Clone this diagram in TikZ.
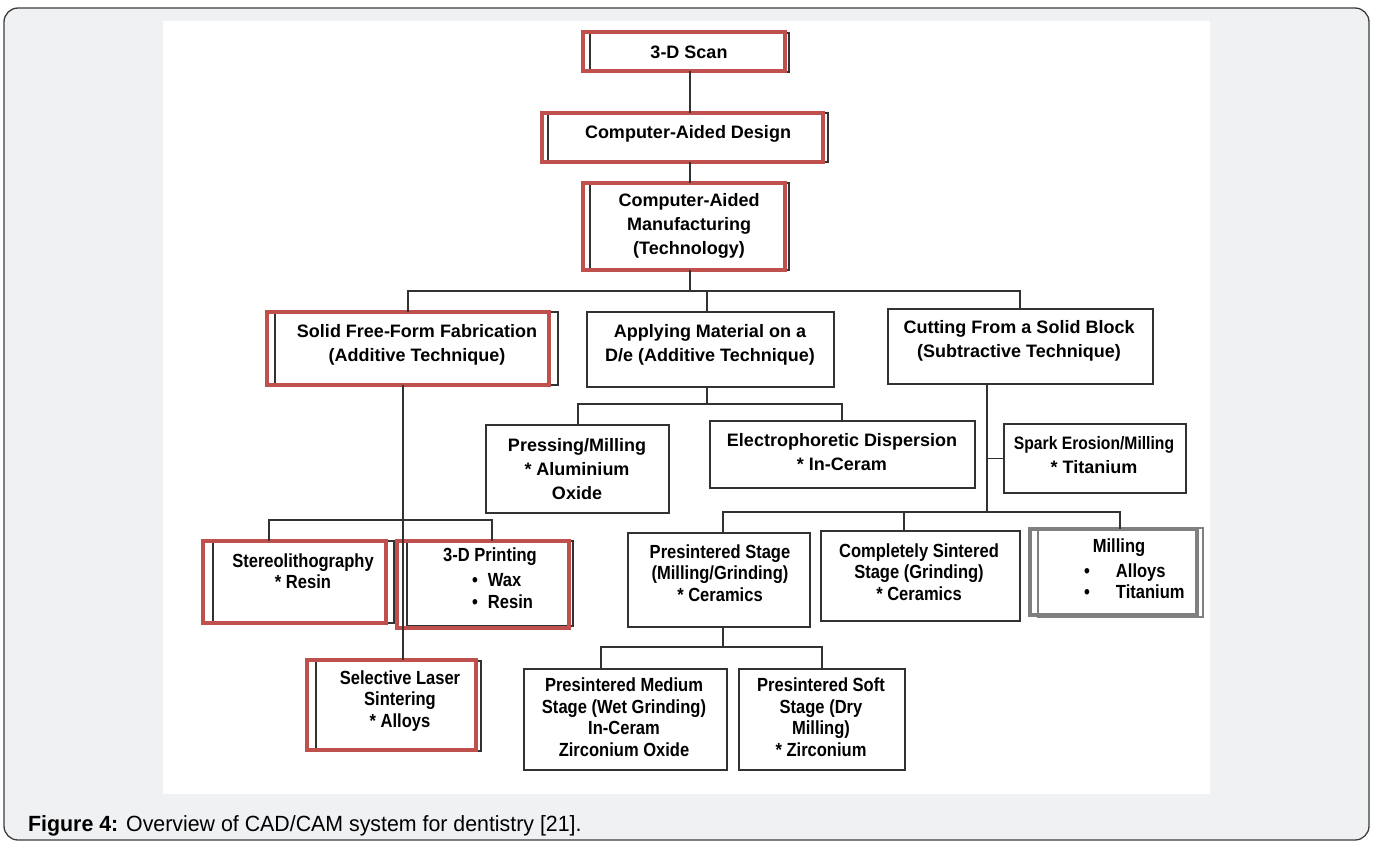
\documentclass[tikz,border=0pt]{standalone}
\usepackage{fontspec}
\newfontfamily\sansf{Liberation Sans}
\newfontfamily\narrowf[FakeStretch=0.87]{Liberation Sans}
\newfontfamily\capf[FakeStretch=0.97]{Liberation Sans}
\definecolor{linec}{RGB}{50,50,50}
\definecolor{redc}{RGB}{192,80,77}
\definecolor{grayc}{RGB}{128,128,128}
\definecolor{bgc}{RGB}{240,241,243}
\definecolor{framec}{RGB}{60,60,60}
\newcommand\boxat[6]{\node[#2,anchor=north west,minimum width=#5pt-#3pt,minimum height=#6pt-#4pt] (#1) at (#3,#4) {};}
\begin{document}
\begin{tikzpicture}[x=1pt,y=-1pt,
  frame/.style={draw=framec, line width=1.3pt, rounded corners=14pt, fill=bgc},
  plainbox/.style={draw=linec, line width=1.4pt, inner sep=0pt, outer sep=0pt},
  redbox/.style={draw=redc, line width=4.5pt, inner sep=0pt, outer sep=0pt},
  graybox/.style={draw=grayc, line width=4pt, inner sep=0pt, outer sep=0pt},
  graythin/.style={draw=grayc, line width=1.8pt, inner sep=0pt, outer sep=0pt},
  conn/.style={draw=linec, line width=1.4pt},
  mtxt/.style={font=\sansf\bfseries\fontsize{18}{24}\selectfont, align=center, inner sep=0pt, text=black},
  ntxt/.style={font=\narrowf\bfseries\fontsize{19}{21.5}\selectfont, align=center, inner sep=0pt, text=black}
]
\useasboundingbox (0,0) rectangle (1375,841);
\draw[frame] (4,8) rectangle (1369,840);
\fill[white] (163,21) rectangle (1210,794);

% double boxes (black frame + red frame)
\boxat{scanB}{plainbox}{590}{33}{789}{72}
\boxat{scan}{redbox}{583}{32}{785}{71}
\boxat{cadB}{plainbox}{548}{113}{828}{162}
\boxat{cad}{redbox}{542}{113}{823}{162}
\boxat{camB}{plainbox}{590}{183}{789}{270}
\boxat{cam}{redbox}{583}{183}{785}{270}
\boxat{sffB}{plainbox}{275}{312}{558}{385}
\boxat{sff}{redbox}{267}{312}{549}{385}
\boxat{stereoB}{plainbox}{213}{541}{394}{623}
\boxat{stereo}{redbox}{203}{541}{386}{623}
\boxat{printB}{plainbox}{407}{541}{573}{626}
\boxat{print}{redbox}{397}{541}{569}{628}
\boxat{slsB}{plainbox}{316}{661}{481}{751}
\boxat{sls}{redbox}{307}{660}{476}{750}
\boxat{millB}{graythin}{1038}{528}{1203}{617}
\boxat{mill}{graybox}{1030}{529}{1197}{615}

% plain boxes
\boxat{apply}{plainbox}{587}{312}{834}{387}
\boxat{cut}{plainbox}{888}{309}{1153}{384}
\boxat{press}{plainbox}{486}{425}{669}{513}
\boxat{electro}{plainbox}{710}{421}{975}{488}
\boxat{spark}{plainbox}{1004}{424}{1186}{493}
\boxat{preS}{plainbox}{628}{533}{810}{627}
\boxat{compS}{plainbox}{821}{531}{1020}{621}
\boxat{medium}{plainbox}{524}{669}{727}{770}
\boxat{soft}{plainbox}{739}{669}{905}{770}

% connectors
\draw[conn] (690,0 |- scan.south) -- (690,0 |- cad.north);
\draw[conn] (690,0 |- cad.south) -- (690,0 |- cam.north);
\draw[conn] (690,0 |- cam.south) -- (690,291);
\draw[conn] (408,0 |- sff.north) -- (408,291) -- (1020,291) -- (1020,0 |- cut.north);
\draw[conn] (707,291) -- (707,0 |- apply.north);
\draw[conn] (707,0 |- apply.south) -- (707,404);
\draw[conn] (578,0 |- press.north) -- (578,404) -- (842,404) -- (842,0 |- electro.north);
\draw[conn] (403,0 |- sff.south) -- (403,0 |- sls.north);
\draw[conn] (269,0 |- stereo.north) -- (269,520) -- (492,520) -- (492,0 |- print.north);
\draw[conn] (987,0 |- cut.south) -- (987,512);
\draw[conn] (spark.west) -- (spark.west -| 987,0);
\draw[conn] (723,0 |- preS.north) -- (723,512) -- (1120,512) -- (1120,0 |- mill.north);
\draw[conn] (904,0 |- compS.north) -- (904,512);
\draw[conn] (723,0 |- preS.south) -- (723,647);
\draw[conn] (601,0 |- medium.north) -- (601,647) -- (822,647) -- (822,0 |- soft.north);

% texts
\node[mtxt] (tscan) at (689,52) {3-D Scan};
\node[mtxt] (tcad) at (688,134) {Computer-Aided Design};
\node[mtxt] (tcam) at (689,226) {Computer-Aided\\Manufacturing\\(Technology)};
\node[mtxt] (tsff) at (417,345) {Solid Free-Form Fabrication\\(Additive Technique)};
\node[mtxt] (tapply) at (710,345) {Applying Material on a\\D/e (Additive Technique)};
\node[mtxt] (tcut) at (1019,341) {Cutting From a Solid Block\\(Subtractive Technique)};
\node[mtxt] (tpress) at (577,469) {Pressing/Milling\\* Aluminium\\Oxide};
\node[mtxt] (telectro) at (842,452) {Electrophoretic Dispersion\\* In-Ceram};
\node[mtxt] (tspark) at (1094,455) {{\narrowf\bfseries Spark Erosion/Milling}\\* Titanium};
\node[ntxt] (tstereo) at (303,571) {Stereolithography\\* Resin};
\node[ntxt] (tprint) at (490,557) {3-D Printing};
\node[ntxt, anchor=west, align=left] (tprintl) at (472,591) {•\hspace{10pt}Wax\\•\hspace{10pt}Resin};
\node[ntxt] (tsls) at (400,701) {Selective Laser\\Sintering\\* Alloys};
\node[ntxt] (tmill) at (1119,548) {Milling};
\node[ntxt, anchor=west, align=left] (tmilll) at (1084,581) {•\hspace{26pt}Alloys\\•\hspace{26pt}Titanium};
\node[ntxt] (tpres) at (720,573) {Presintered Stage\\(Milling/Grinding)\\* Ceramics};
\node[ntxt] (tcomp) at (919,572) {Completely Sintered\\Stage (Grinding)\\* Ceramics};
\node[ntxt] (tmed) at (624,717) {Presintered Medium\\Stage (Wet Grinding)\\In-Ceram\\Zirconium Oxide};
\node[ntxt] (tsoft) at (821,717) {Presintered Soft\\Stage (Dry\\Milling)\\* Zirconium};

% caption
\node[anchor=base west, inner sep=0pt, font=\capf\fontsize{22}{26}\selectfont, text=black] (caption) at (28,831) {\textbf{Figure 4:} Overview of CAD/CAM system for dentistry [21].};
\end{tikzpicture}
\end{document}
